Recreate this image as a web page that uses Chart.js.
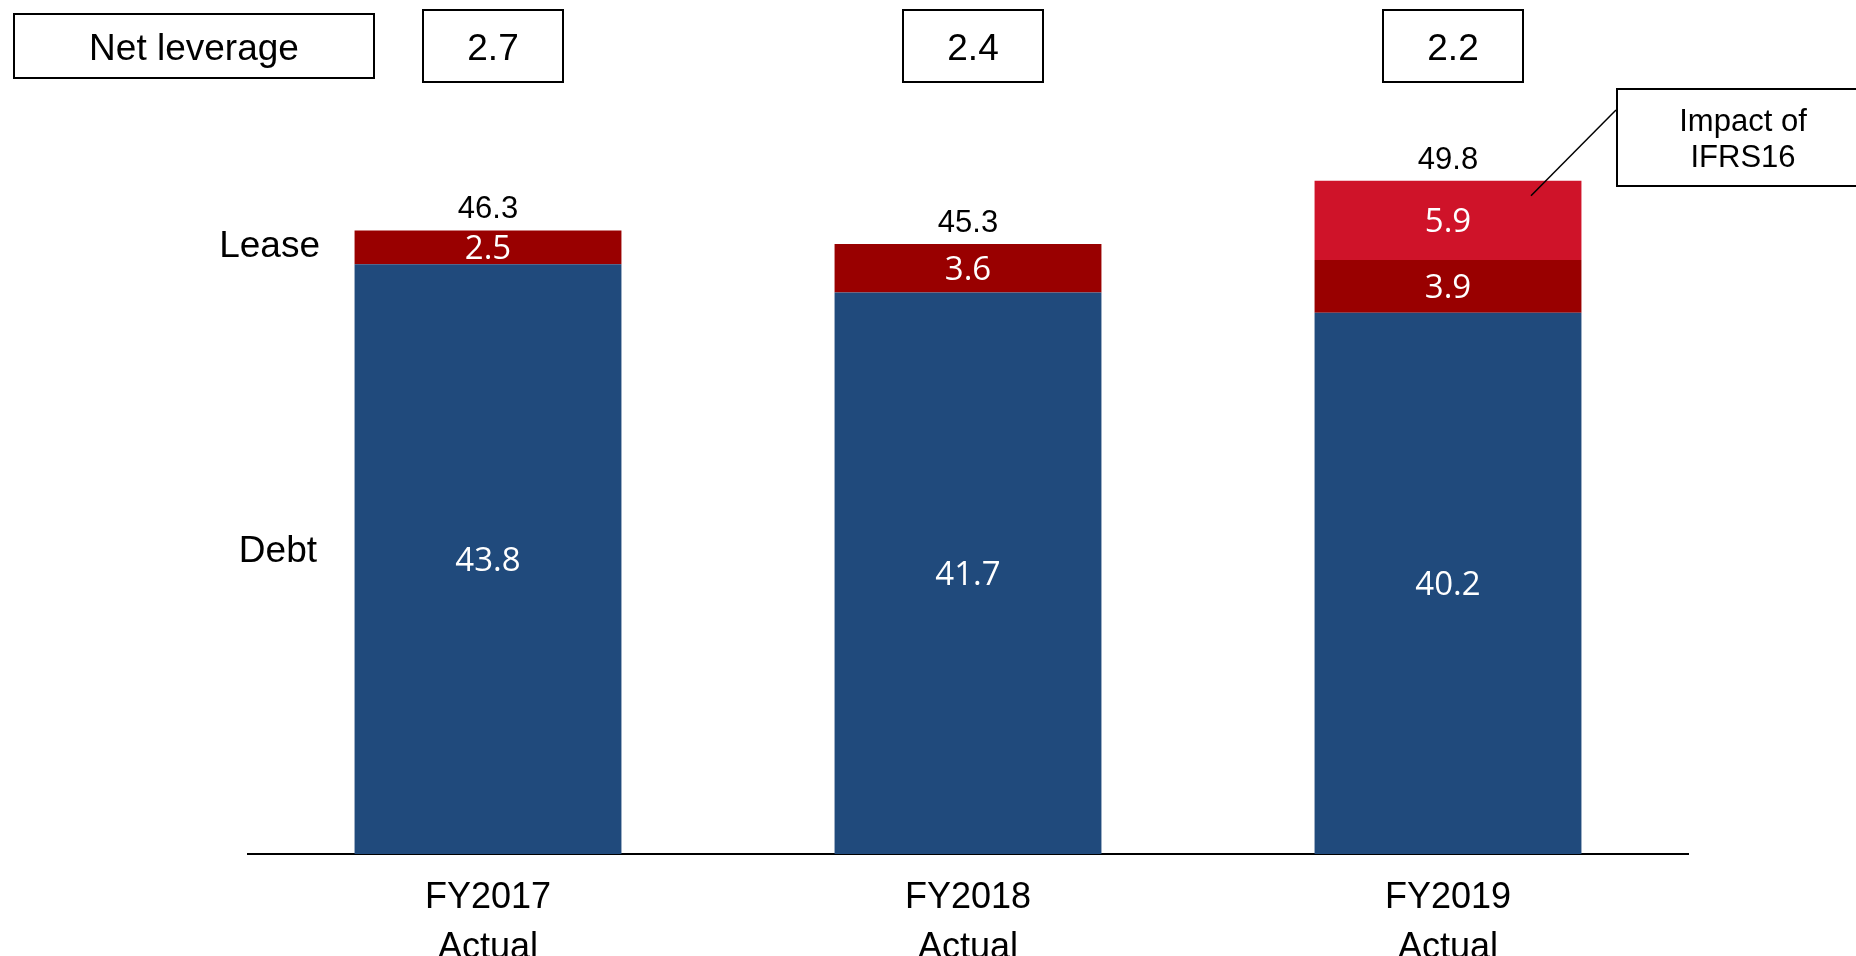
<!DOCTYPE html>
<html>
<head>
<meta charset="utf-8">
<script src="https://cdn.jsdelivr.net/npm/chart.js@4/dist/chart.umd.min.js"></script>
<style>
  html, body { margin: 0; padding: 0; background: #fff; }
  #wrap { width: 1856px; height: 956px; position: relative; }
</style>
</head>
<body>
<div id="wrap"><canvas id="chart"></canvas></div>
<script>
// data
const categories = [['FY2017', 'Actual'], ['FY2018', 'Actual'], ['FY2019', 'Actual']];
const debt = [43.8, 41.7, 40.2];
const lease = [2.5, 3.6, 3.9];
const ifrs16 = [null, null, 5.9];
const totals = [46.3, 45.3, 49.8];
const netLeverage = [2.7, 2.4, 2.2];

const ARIAL = '"Liberation Sans", Arial, sans-serif';
const NARROW = '"Liberation Sans Narrow", "Liberation Sans", Arial, sans-serif';
const CALIBRI = '"Open Sans", "Noto Sans", sans-serif';

// labels, boxes and the callout
const labelsPlugin = {
    id: 'labels',
    afterDatasetsDraw(chart) {
        const ctx = chart.ctx;
        const xs = chart.scales.x;
        ctx.save();
        ctx.textAlign = 'center';
        ctx.textBaseline = 'alphabetic';

        // white values inside the segments
        ctx.font = '33px ' + CALIBRI;
        ctx.fillStyle = '#fff';
        chart.data.datasets.forEach((ds, di) => {
            chart.getDatasetMeta(di).data.forEach((bar, i) => {
                const v = ds.data[i];
                if (v == null) return;
                const mid = (bar.y + bar.base) / 2;
                ctx.fillText(v.toFixed(1), bar.x, mid + 12);
            });
        });

        // totals above the stacks
        ctx.font = '31px ' + ARIAL;
        ctx.fillStyle = '#000';
        totals.forEach((t, i) => {
            let top = Infinity;
            chart.data.datasets.forEach((ds, di) => {
                if (ds.data[i] == null) return;
                top = Math.min(top, chart.getDatasetMeta(di).data[i].y);
            });
            ctx.fillText(t.toFixed(1), xs.getPixelForValue(i), top - 12);
        });

        // side labels next to the first bar
        ctx.font = '37px ' + ARIAL;
        ctx.textAlign = 'right';
        const leaseBar = chart.getDatasetMeta(1).data[0];
        const debtBar = chart.getDatasetMeta(0).data[0];
        ctx.fillText('Lease', 320, (leaseBar.y + leaseBar.base) / 2 + 10);
        ctx.fillText('Debt', 317, (debtBar.y + debtBar.base) / 2 + 3);

        // net leverage row
        ctx.lineWidth = 2;
        ctx.strokeStyle = '#000';
        ctx.textAlign = 'center';
        ctx.strokeRect(14, 14, 360, 64);
        ctx.fillText('Net leverage', 194, 60);
        netLeverage.forEach((v, i) => {
            const cx = xs.getPixelForValue(i) + 5;
            ctx.strokeRect(cx - 70, 10, 140, 72);
            ctx.fillText(v.toFixed(1), cx, 60);
        });

        // IFRS16 callout
        const b3 = chart.getDatasetMeta(2).data[2];
        ctx.beginPath();
        ctx.moveTo(b3.x + 83, b3.y + 15);
        ctx.lineTo(1616, 110);
        ctx.lineWidth = 1.5;
        ctx.stroke();
        ctx.lineWidth = 2;
        ctx.strokeRect(1617, 89, 260, 97);
        ctx.font = '31px ' + ARIAL;
        ctx.fillText('Impact of', 1743, 131);
        ctx.fillText('IFRS16', 1743, 167);

        ctx.restore();
    }
};

new Chart(document.getElementById('chart'), {
    type: 'bar',
    data: {
        labels: categories,
        datasets: [
            { label: 'Debt', data: debt, backgroundColor: '#204A7C' },
            { label: 'Lease', data: lease, backgroundColor: '#990000' },
            { label: 'Impact of IFRS16', data: ifrs16, backgroundColor: '#CF1329' }
        ]
    },
    options: {
        responsive: true,
        maintainAspectRatio: false,
        animation: false,
        barPercentage: 0.556,
        categoryPercentage: 1,
        layout: { padding: { left: 248, right: 168, top: 46, bottom: 0 } },
        plugins: {
            legend: { display: false },
            tooltip: { enabled: false }
        },
        scales: {
            x: {
                stacked: true,
                grid: { display: false },
                border: { display: true, color: '#000', width: 2 },
                ticks: {
                    color: '#000',
                    padding: 11,
                    maxRotation: 0,
                    autoSkip: false,
                    font: { family: NARROW, size: 36, lineHeight: '50px' }
                },
                afterFit(scale) { scale.height = 102; }
            },
            y: { stacked: true, display: false, min: 0, max: 60 }
        }
    },
    plugins: [labelsPlugin]
});
</script>
</body>
</html>
